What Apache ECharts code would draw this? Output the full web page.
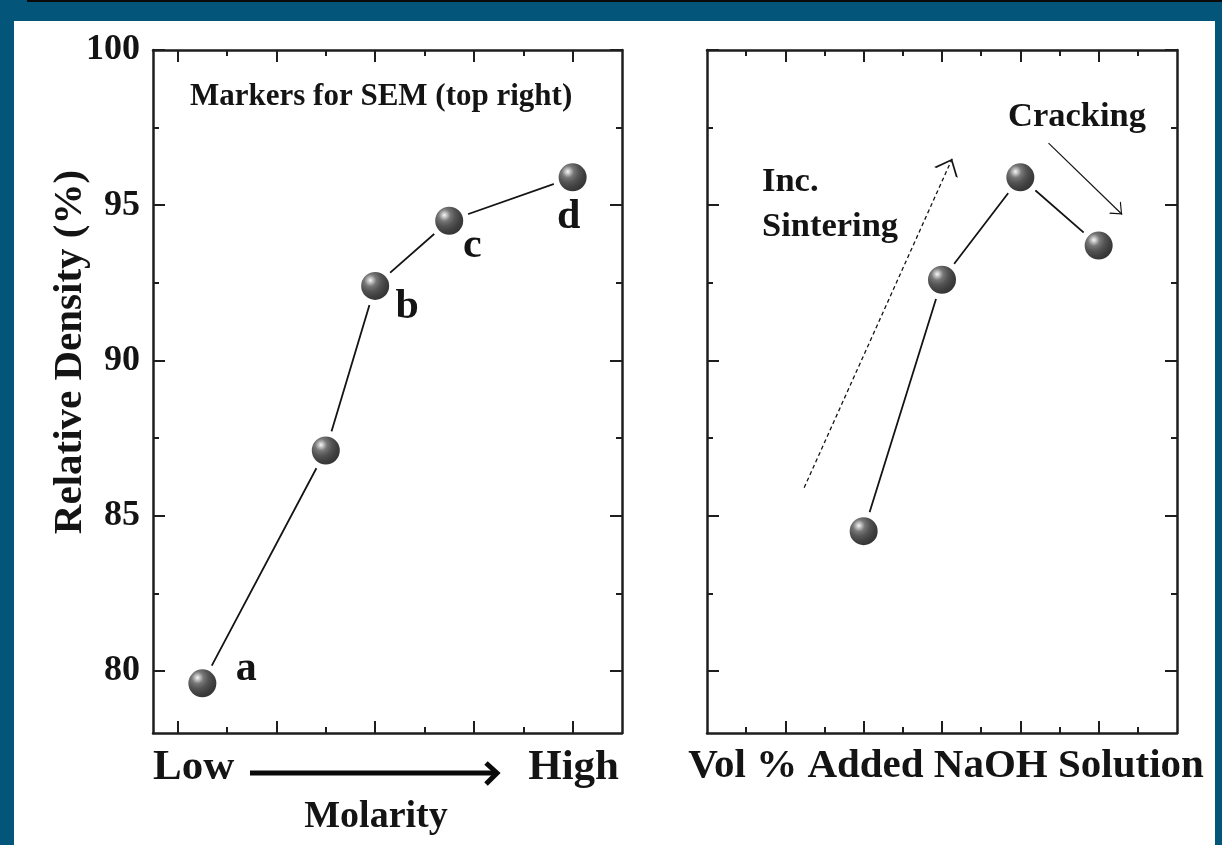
<!DOCTYPE html>
<html><head><meta charset="utf-8">
<script src="https://cdn.jsdelivr.net/npm/echarts@6/dist/echarts.min.js"></script>
<style>
html,body{margin:0;padding:0;width:1222px;height:845px;overflow:hidden;background:#035579;}
#paper{position:absolute;left:14px;top:21px;width:1201px;height:824px;background:#fff;}
#topbar{position:absolute;left:27px;top:0;width:1195px;height:2px;background:#0a0a0a;}
#chart{position:absolute;left:0;top:0;width:1222px;height:845px;}
</style></head><body>
<div id="topbar"></div><div id="paper"></div><div id="chart"></div>
<script>
// ---- data ----
const molarityX = [0.5, 3, 4, 5.5, 8];
const molarityDensity = [79.6, 87.1, 92.4, 94.5, 95.9];
const molarityLabels = ['a', '', 'b', 'c', 'd'];
const naohX = [1, 2, 3, 4];
const naohDensity = [84.5, 92.6, 95.9, 93.7];
const yTickLabels = [80, 85, 90, 95, 100];
const yMinorTicks = [82.5, 87.5, 92.5, 97.5];
const leftMajorX = [0, 2, 4, 6, 8];
const leftMinorX = [1, 3, 5, 7];
const rightMajorX = [0, 1, 2, 3, 4];
const rightMinorX = [-0.5, 0.5, 1.5, 2.5, 3.5, 4.5];
const sinteringArrow = [[0.24, 85.9], [2.13, 96.5]];
const crackingArrow = [[3.36, 97.0], [4.30, 94.7]];

// ---- styles ----
const SERIF = '"Liberation Serif", "Times New Roman", serif';
const INK = '#141414';
const AXIS = '#1e1e1e';
const letterOffsets = [[44, -14], [0, 0], [32, 21], [23, 25], [-4, 40]];

function axesFor(kind, gridIndex, min, max, major, minor, labels) {
  const sides = kind === 'x' ? ['bottom', 'top'] : ['left', 'right'];
  const out = [];
  sides.forEach((pos, si) => {
    [major, minor].forEach((vals, mi) => {
      const showLabel = si === 0 && mi === 0 && !!labels;
      out.push({
        type: 'value', gridIndex: gridIndex, min: min, max: max, position: pos,
        axisLine: { show: mi === 0, onZero: false, lineStyle: { color: AXIS, width: 2.5 } },
        axisTick: { show: true, inside: true, length: mi === 0 ? 12 : 6, customValues: vals,
                    lineStyle: { color: AXIS, width: 2 } },
        axisLabel: showLabel ? { show: true, customValues: labels, margin: 13, color: INK,
                    fontFamily: SERIF, fontSize: 36, fontWeight: 'bold' } : { show: false },
        splitLine: { show: false }
      });
    });
  });
  return out;
}

const xAxes = [].concat(
  axesFor('x', 0, -0.5, 9, leftMajorX, leftMinorX, null),
  axesFor('x', 1, -1, 5, rightMajorX, rightMinorX, null)
);
const yAxes = [].concat(
  axesFor('y', 0, 78, 100, yTickLabels, yMinorTicks, yTickLabels),
  axesFor('y', 1, 78, 100, yTickLabels, yMinorTicks, null)
);

const sphere = {
  type: 'radial', x: 0.38, y: 0.36, r: 0.5,
  colorStops: [
    { offset: 0, color: '#f8f8f8' },
    { offset: 0.12, color: '#c4c4c4' },
    { offset: 0.3, color: '#777777' },
    { offset: 0.55, color: '#545454' },
    { offset: 0.8, color: '#404040' },
    { offset: 1, color: '#363636' }
  ]
};
const markerStyle = { color: sphere, borderColor: '#ffffff', borderWidth: 6 };

const chevron = 'path://M5,-10 L5.02,-10 L5,-9.98 Z M0,10 L5,0 L10,10 L9.1,10 L5,1.8 L0.9,10 Z';

function txt(text, x, y, size, align, extra) {
  return Object.assign({
    type: 'text', x: x, y: y, silent: true,
    style: { text: text, fill: INK, font: 'bold ' + size + 'px ' + SERIF,
             align: align || 'left', verticalAlign: 'middle' }
  }, extra || {});
}

const chart = echarts.init(document.getElementById('chart'), null, { renderer: 'canvas' });
chart.setOption({
  animation: false,
  backgroundColor: 'transparent',
  grid: [
    { left: 153, top: 50, width: 469, height: 683 },
    { left: 707, top: 50, width: 470, height: 683 }
  ],
  xAxis: xAxes,
  yAxis: yAxes,
  series: [
    {
      type: 'line', xAxisIndex: 0, yAxisIndex: 0,
      symbol: 'circle', symbolSize: 34,
      itemStyle: markerStyle,
      lineStyle: { color: INK, width: 1.8 },
      label: { show: true, position: 'inside', color: INK, fontFamily: SERIF,
               fontSize: 42, fontWeight: 'bold' },
      emphasis: { disabled: true },
      data: molarityX.map((x, i) => ({
        value: [x, molarityDensity[i]],
        label: { show: !!molarityLabels[i], formatter: molarityLabels[i] || ' ', offset: letterOffsets[i] }
      }))
    },
    {
      type: 'line', xAxisIndex: 4, yAxisIndex: 4,
      symbol: 'circle', symbolSize: 34,
      itemStyle: markerStyle,
      lineStyle: { color: INK, width: 1.8 },
      emphasis: { disabled: true },
      data: naohX.map((x, i) => [x, naohDensity[i]]),
      markLine: {
        silent: true, animation: false,
        label: { show: false },
        emphasis: { disabled: true },
        data: [
          [
            { coord: sinteringArrow[0], symbol: 'none',
              lineStyle: { color: INK, width: 1.3, type: [4, 3] } },
            { coord: sinteringArrow[1], symbol: chevron, symbolSize: [26, 30] }
          ],
          [
            { coord: crackingArrow[0], symbol: 'none',
              lineStyle: { color: INK, width: 1.2, type: 'solid' } },
            { coord: crackingArrow[1], symbol: chevron, symbolSize: [17, 20] }
          ]
        ]
      }
    }
  ],
  graphic: [
    txt('Markers for SEM (top right)', 190, 97, 31),
    txt('Inc.', 762, 182, 34.5),
    txt('Sintering', 762, 227, 34.5),
    txt('Cracking', 1008, 117, 34.5),
    txt('Low', 153, 768, 43),
    txt('High', 619, 768, 43, 'right'),
    txt('Molarity', 376, 817, 38, 'center'),
    txt('Relative Density (%)', 70, 352, 41, 'center', { rotation: Math.PI / 2 }),
    txt('Vol % Added NaOH Solution', 946, 766, 41, 'center'),
    { type: 'line', silent: true, shape: { x1: 250, y1: 773, x2: 494, y2: 773 },
      style: { stroke: '#0a0a0a', lineWidth: 5 } },
    { type: 'polyline', silent: true, shape: { points: [[486, 763], [497, 773], [486, 784]] },
      style: { stroke: '#0a0a0a', lineWidth: 5, fill: null, lineJoin: 'miter' } }
  ]
});
</script>
</body></html>
